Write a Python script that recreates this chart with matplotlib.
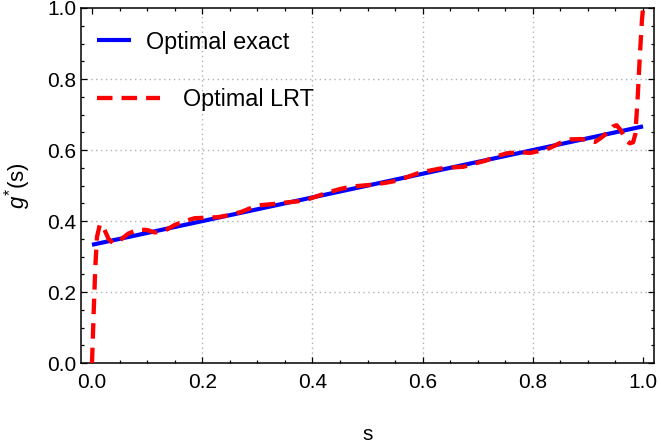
import numpy as np
import matplotlib
matplotlib.use("Agg")
import matplotlib.pyplot as plt
from matplotlib.ticker import MultipleLocator

plt.rcParams['font.family'] = ['Liberation Sans', 'DejaVu Sans']
plt.rcParams['mathtext.fontset'] = 'custom'
plt.rcParams['mathtext.rm'] = 'Liberation Sans'
plt.rcParams['mathtext.it'] = 'Liberation Sans:italic'

# exact optimum: straight line
s_exact = [0.0, 1.0]
g_exact = [1 / 3, 2 / 3]

# LRT approximation
s_lrt = [0.0, 0.003, 0.006, 0.009, 0.0145, 0.022, 0.030, 0.0385, 0.050, 0.066,
         0.084, 0.100, 0.114, 0.132, 0.150, 0.168, 0.186, 0.210, 0.228, 0.250,
         0.271, 0.290, 0.307, 0.328, 0.349, 0.370, 0.391, 0.410, 0.433, 0.452,
         0.470, 0.491, 0.512, 0.533, 0.554, 0.572, 0.590, 0.612, 0.632, 0.653,
         0.674, 0.694, 0.714, 0.733, 0.753, 0.775, 0.795, 0.813, 0.831, 0.848,
         0.864, 0.888, 0.913, 0.926, 0.937, 0.945, 0.952, 0.960, 0.968, 0.976,
         0.982, 0.986, 0.990, 0.994, 0.998, 1.0]
g_lrt = [0.0, 0.14, 0.27, 0.355, 0.392, 0.378, 0.350, 0.337, 0.345, 0.365,
         0.376, 0.375, 0.368, 0.373, 0.389, 0.400, 0.408, 0.410, 0.411, 0.417,
         0.426, 0.438, 0.445, 0.448, 0.452, 0.455, 0.461, 0.471, 0.483, 0.491,
         0.497, 0.500, 0.503, 0.508, 0.514, 0.524, 0.534, 0.542, 0.548, 0.551,
         0.553, 0.562, 0.570, 0.582, 0.591, 0.594, 0.592, 0.598, 0.606, 0.619,
         0.630, 0.631, 0.623, 0.637, 0.652, 0.666, 0.670, 0.655, 0.630, 0.619,
         0.622, 0.645, 0.740, 0.860, 0.965, 1.0]

grid_ticks = [0.2, 0.4, 0.6, 0.8]

fig = plt.figure(figsize=(6.61, 4.44), dpi=100)
ax = fig.add_axes([0.1225, 0.182, 0.867, 0.8])

for v in grid_ticks:
    ax.axvline(v, color='#b0b0b0', lw=1.0, ls=(0, (1, 2.5)), zorder=0)
    ax.axhline(v, color='#b0b0b0', lw=1.0, ls=(0, (1, 2.5)), zorder=0)

line_exact, = ax.plot(s_exact, g_exact, color='#0000ff', lw=3, solid_capstyle='butt', zorder=2)
line_lrt, = ax.plot(s_lrt, g_lrt, color='#ff0000', lw=3.1, dashes=(3.6, 2.1), zorder=3)

ax.set_xlim(-0.02, 1.02)
ax.set_ylim(0, 1)
ax.xaxis.set_major_locator(MultipleLocator(0.2))
ax.yaxis.set_major_locator(MultipleLocator(0.2))
ax.xaxis.set_minor_locator(MultipleLocator(0.05))
ax.yaxis.set_minor_locator(MultipleLocator(0.05))
ax.tick_params(which='both', direction='in', top=True, right=True, labelsize=15, width=0.9)
ax.tick_params(which='major', length=4)
ax.tick_params(which='minor', length=2.4)
ax.tick_params(axis='x', pad=7)
for sp in ax.spines.values():
    sp.set_linewidth(1.1)

ax.set_xlabel('s', fontsize=15, labelpad=24)
ax.set_ylabel(r'$g^{*}$(s)', fontsize=16, labelpad=10)

leg1 = ax.legend([line_exact], ['Optimal exact'], loc='center left',
                 bbox_to_anchor=(0.028, 0.904), frameon=False, fontsize=16.8,
                 handlelength=1.46, handletextpad=0.64, borderpad=0, borderaxespad=0)
ax.add_artist(leg1)
ax.legend([line_lrt], ['Optimal LRT'], loc='center left',
          bbox_to_anchor=(0.028, 0.741), frameon=False, fontsize=16.8,
          handlelength=2.70, handletextpad=0.99, borderpad=0, borderaxespad=0)

fig.savefig('out.png', dpi=100)
